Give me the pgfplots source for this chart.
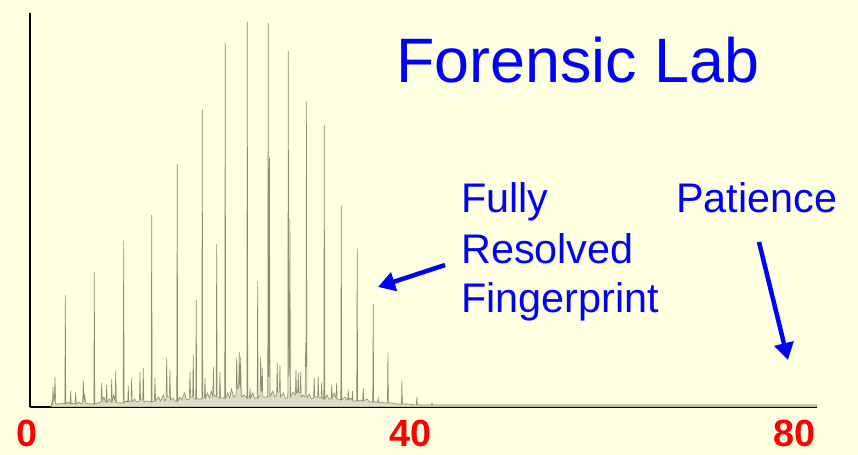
\documentclass[border=0pt]{standalone}
\usepackage{pgfplots}
\pgfplotsset{compat=1.18}
\usepackage{fontspec}
\setmainfont{Liberation Sans}
\usetikzlibrary{arrows.meta}
\definecolor{bgyellow}{RGB}{255,255,225}
\definecolor{traceC}{RGB}{140,140,118}
\definecolor{fillC}{RGB}{222,222,198}
\definecolor{pblue}{RGB}{0,0,255}
\pgfplotstableread{
t h
2.20 0
2.26 4
2.34 3
2.40 20
2.46 6
2.54 6
2.60 30
2.68 3
3.00 3
3.30 4
3.63 3
3.68 112
3.73 3
4.00 5
4.18 3
4.24 16
4.30 3
4.50 4
4.70 3
4.76 15
4.82 3
5.10 5
5.30 3
5.48 4
5.55 26
5.62 5
5.70 12
5.80 4
6.20 3
6.65 3
6.70 135
6.75 3
7.10 4
7.40 5
7.47 24
7.54 6
7.70 10
7.85 5
7.93 5
7.99 22
8.05 5
8.25 8
8.45 5
8.51 28
8.57 6
8.72 12
8.87 6
8.93 36
8.99 5
9.30 4
9.71 4
9.76 166
9.81 4
10.00 6
10.18 5
10.24 21
10.30 5
10.53 6
10.59 29
10.65 5
10.90 8
11.10 5
11.40 6
11.46 35
11.52 7
11.74 7
11.80 39
11.86 5
12.20 6
12.63 5
12.68 192
12.73 5
12.96 6
13.02 29
13.08 6
13.40 10
13.60 6
13.90 12
14.05 6
14.18 8
14.24 49
14.30 10
14.52 10
14.58 37
14.64 7
14.90 9
15.10 6
15.29 6
15.34 243
15.39 6
15.60 10
15.80 7
16.10 14
16.30 7
16.60 8
16.67 35
16.74 10
16.95 10
17.01 52
17.07 8
17.27 8
17.32 107
17.37 8
17.90 8
17.95 298
18.00 9
18.17 9
18.23 29
18.29 9
18.50 14
18.70 9
18.90 16
19.05 10
19.11 40
19.17 12
19.40 10
19.45 163
19.50 10
19.73 9
19.79 35
19.85 9
20.29 9
20.34 364
20.39 9
20.60 14
20.80 9
21.00 18
21.20 10
21.47 12
21.53 49
21.60 18
21.74 20
21.80 55
21.86 22
21.90 20
21.95 50
22.02 10
22.30 12
22.59 9
22.64 385
22.69 9
22.86 9
22.92 19
22.98 9
23.20 14
23.40 9
23.67 9
23.72 125
23.77 9
23.97 12
24.03 50
24.09 16
24.14 16
24.20 39
24.27 10
24.77 10
24.82 384
24.88 30
24.92 60
24.95 249
25.01 10
25.30 16
25.50 10
25.70 12
25.76 44
25.82 15
25.98 15
26.04 42
26.10 10
26.40 14
26.60 9
26.86 9
26.91 356
26.97 30
27.04 40
27.08 188
27.14 10
27.40 15
27.65 12
27.71 37
27.77 14
27.89 14
27.95 34
28.01 14
28.14 14
28.20 35
28.26 10
28.45 12
28.67 10
28.72 64
28.76 40
28.80 305
28.85 9
29.10 13
29.30 8
29.55 9
29.61 29
29.67 10
29.97 10
30.03 30
30.09 10
30.33 9
30.39 25
30.45 9
30.61 8
30.66 282
30.71 8
30.95 12
31.15 8
31.37 8
31.43 22
31.49 9
31.70 14
31.89 9
31.95 24
32.01 8
32.38 7
32.43 201
32.48 7
32.80 10
33.10 7
33.16 17
33.22 7
33.40 9
33.55 7
33.61 16
33.67 6
34.04 6
34.09 159
34.14 6
34.40 7
34.66 6
34.72 19
34.78 6
35.10 8
35.40 5
35.71 5
35.76 103
35.81 5
36.22 5
36.28 9
36.34 4
36.70 5
37.00 4
37.24 4
37.29 55
37.34 4
37.80 4
38.20 3
38.70 3
38.75 27
38.80 3
39.40 3
40.26 2
40.31 10
40.36 2
41.00 2
41.83 2
41.88 4
41.93 2
44.00 2
50.00 2
60.00 2
70.00 2
82.00 2
}\chrom
\begin{document}
\begin{tikzpicture}[x=1bp,y=1bp]
\fill[bgyellow] (-30,-48) rectangle (828,407);
\begin{axis}[
  scale only axis,
  width=787bp, height=394bp,
  xmin=0, xmax=82, ymin=0, ymax=394,
  axis x line=bottom, axis y line=left,
  axis line style={-, line width=2bp, black},
  xtick={0,40,80}, xticklabels={0,40,80},
  ytick=\empty,
  major tick length=0pt,
  xticklabel style={font=\fontsize{38}{40}\selectfont\bfseries, text=red, inner sep=0pt, yshift=-13bp, xshift=-3bp},
]
\addplot[draw=traceC, line width=0.6bp, fill=fillC] table[x=t, y=h] {\chrom} \closedcycle;
\end{axis}
\node[anchor=base west, inner sep=0pt, text=pblue, font=\fontsize{63}{70}\selectfont] at (366,324) {Forensic Lab};
\node[anchor=base west, inner sep=0pt, text=pblue, font=\fontsize{41.5}{44}\selectfont] at (431,194) {Fully};
\node[anchor=base west, inner sep=0pt, text=pblue, font=\fontsize{41.5}{44}\selectfont] at (431,143) {Resolved};
\node[anchor=base west, inner sep=0pt, text=pblue, font=\fontsize{41.5}{44}\selectfont] at (431,94) {Fingerprint};
\node[anchor=base west, inner sep=0pt, text=pblue, font=\fontsize{41.5}{44}\selectfont] at (646,194) {Patience};
\draw[pblue, line width=4.5bp, -{Triangle[length=17bp,width=19bp]}] (415,142) -- (348,120);
\draw[pblue, line width=4.5bp, -{Triangle[length=17bp,width=19bp]}] (729,165) -- (758,47);
\end{tikzpicture}
\end{document}
